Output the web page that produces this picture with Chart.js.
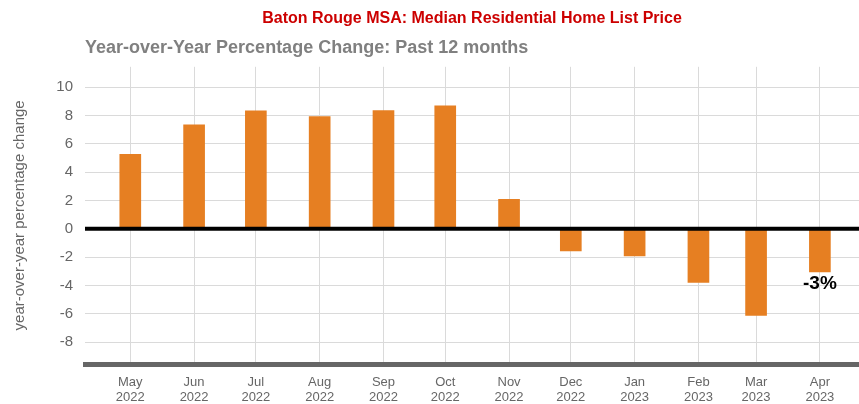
<!DOCTYPE html>
<html>
<head>
<meta charset="utf-8">
<script src="https://cdn.jsdelivr.net/npm/chart.js@4.4.0/dist/chart.umd.min.js"></script>
<style>
  html, body { margin: 0; padding: 0; background: #fff; }
  #wrap { width: 859px; height: 404px; }
</style>
</head>
<body>
<div id="wrap"><canvas id="yoyChart"></canvas></div>
<script>
// datos
const monthDates = ['2022-05-01', '2022-06-01', '2022-07-01', '2022-08-01', '2022-09-01', '2022-10-01',
                    '2022-11-01', '2022-12-01', '2023-01-01', '2023-02-01', '2023-03-01', '2023-04-01'];
const monthLabels = ['May', 'Jun', 'Jul', 'Aug', 'Sep', 'Oct', 'Nov', 'Dec', 'Jan', 'Feb', 'Mar', 'Apr'];
const yearLabels = ['2022', '2022', '2022', '2022', '2022', '2022', '2022', '2022', '2023', '2023', '2023', '2023'];
const yoyChange = [5.26, 7.33, 8.32, 7.92, 8.34, 8.67, 2.09, -1.56, -1.91, -3.77, -6.10, -3.04];
const yTicks = [-8, -6, -4, -2, 0, 2, 4, 6, 8, 10];
const lastLabel = '-3%';

const FONT = '"Liberation Sans", Arial, sans-serif';
const DAY = 86400000;
const start = Date.parse(monthDates[0]);
const dayOffsets = monthDates.map(d => Math.round((Date.parse(d) - start) / DAY));

// linea del cero por encima de las barras + etiqueta del ultimo mes
const zeroLinePlugin = {
    id: 'zeroLine',
    afterDatasetsDraw(chart) {
        const { ctx, chartArea, scales } = chart;
        const y0 = scales.y.getPixelForValue(0);
        ctx.save();
        ctx.strokeStyle = '#000';
        ctx.lineWidth = 4;
        ctx.beginPath();
        ctx.moveTo(chartArea.left, y0);
        ctx.lineTo(chartArea.right, y0);
        ctx.stroke();

        const meta = chart.getDatasetMeta(0);
        const bar = meta.data[meta.data.length - 1];
        ctx.fillStyle = '#000';
        ctx.font = 'bold 19px ' + FONT;
        ctx.textAlign = 'center';
        ctx.textBaseline = 'middle';
        ctx.fillText(lastLabel, bar.x, bar.y + 12);
        ctx.restore();
    }
};

const ctx = document.getElementById('yoyChart').getContext('2d');

new Chart(ctx, {
    type: 'bar',
    data: {
        datasets: [{
            data: dayOffsets.map((d, i) => ({ x: d, y: yoyChange[i] })),
            backgroundColor: '#E67F22',
            barThickness: 21
        }]
    },
    options: {
        responsive: true,
        maintainAspectRatio: false,
        animation: false,
        layout: { padding: 0 },
        plugins: {
            legend: { display: false },
            tooltip: { enabled: false },
            title: {
                display: true,
                text: 'Baton Rouge MSA: Median Residential Home List Price',
                color: '#CC0000',
                fullSize: false,
                font: { family: FONT, size: 16, weight: 'bold' },
                padding: { top: 9, bottom: 9 }
            },
            subtitle: {
                display: true,
                text: 'Year-over-Year Percentage Change: Past 12 months',
                color: '#808080',
                align: 'start',
                fullSize: false,
                font: { family: FONT, size: 18, weight: 'bold' },
                padding: { top: 0, bottom: 8 }
            }
        },
        scales: {
            x: {
                type: 'linear',
                offset: false,
                min: -22,
                max: 354,
                afterBuildTicks: scale => {
                    scale.ticks = dayOffsets.map(v => ({ value: v }));
                },
                afterFit: scale => { scale.height = 40; },
                ticks: {
                    autoSkip: false,
                    maxRotation: 0,
                    padding: 11,
                    color: '#666',
                    font: { family: FONT, size: 13, lineHeight: 1.15 },
                    callback: (value, index) => [monthLabels[index], yearLabels[index]]
                },
                grid: { color: '#dadada', drawTicks: false, offset: false },
                border: { display: true, color: '#666', width: 5 }
            },
            y: {
                min: -9.53,
                max: 11.43,
                afterBuildTicks: scale => {
                    scale.ticks = yTicks.map(v => ({ value: v }));
                },
                afterFit: scale => { scale.width = 85; },
                ticks: {
                    padding: 12,
                    color: '#666',
                    font: { family: FONT, size: 15 }
                },
                grid: { color: '#dadada', drawTicks: false },
                border: { display: false },
                title: {
                    display: true,
                    text: 'year-over-year percentage change',
                    color: '#666',
                    font: { family: FONT, size: 15 },
                    padding: { top: 11, bottom: 0 }
                }
            }
        }
    },
    plugins: [zeroLinePlugin]
});
</script>
</body>
</html>
